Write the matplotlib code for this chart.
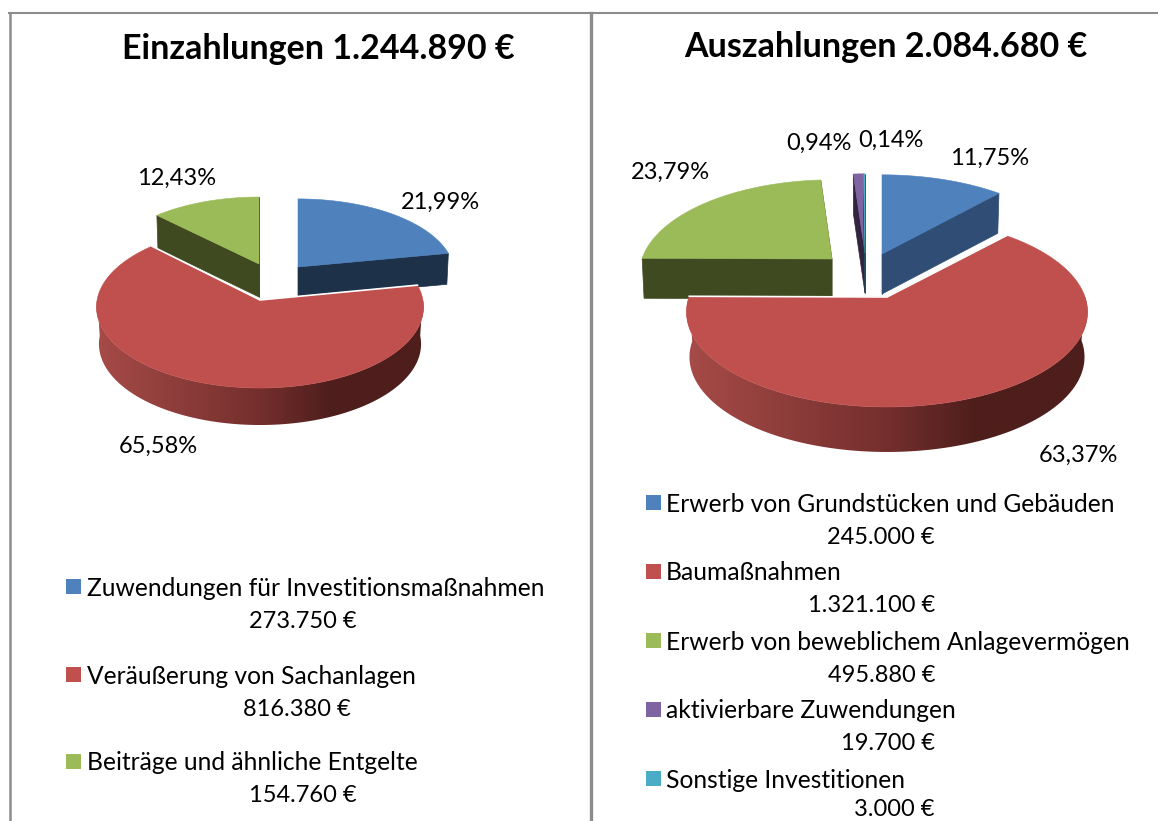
import numpy as np
import matplotlib.pyplot as plt
from matplotlib.colors import LinearSegmentedColormap
from matplotlib.patches import Polygon, Rectangle

plt.rcParams['font.family'] = ['Lato', 'DejaVu Sans']

# data
titel_links = 'Einzahlungen 1.244.890 €'
titel_rechts = 'Auszahlungen 2.084.680 €'

namen_links = ['Zuwendungen für Investitionsmaßnahmen', 'Veräußerung von Sachanlagen', 'Beiträge und ähnliche Entgelte']
werte_links = [273750, 816380, 154760]
betrag_links = ['273.750 €', '816.380 €', '154.760 €']
prozent_links = ['21,99%', '65,58%', '12,43%']

namen_rechts = ['Erwerb von Grundstücken und Gebäuden', 'Baumaßnahmen', 'Erwerb von beweblichem Anlagevermögen',
                'aktivierbare Zuwendungen', 'Sonstige Investitionen']
werte_rechts = [245000, 1321100, 495880, 19700, 3000]
betrag_rechts = ['245.000 €', '1.321.100 €', '495.880 €', '19.700 €', '3.000 €']
prozent_rechts = ['11,75%', '63,37%', '23,79%', '0,94%', '0,14%']

# styles
farben = ['#4F81BD', '#C0504D', '#9BBB59', '#8064A2', '#4BACC6']
wand_links = ['#1D3149', None, '#3F4A20']
wand_rechts = ['#2F4D75', None, '#3F4A20', '#32233F', '#1F4F5C']
rot_verlauf = LinearSegmentedColormap.from_list(
    'rot', [(0, '#A64B48'), (0.5, '#742F2D'), (0.72, '#4E1E1C'), (1, '#4E1E1C')])

# layout: pixel positions of the exploded slices, the red slice is index 1
spitzen_links = [(298, 267), (260, 300), (259, 264)]
skala_links = [(0.955, 0.92), (1, 1), (0.945, 0.905)]
tiefe_links = [31, 37, 33]
spitzen_rechts = [(882, 254), (887, 297), (832, 259), (865, 253), (865, 253)]
skala_rechts = [(0.98, 0.99), (1, 1), (0.96, 0.99), (1, 0.99), (1, 0.99)]
tiefe_rechts = [40, 45, 40, 40, 40]


def projektion(theta, spitze, radius, hoehe, k, skala):
    # theta clockwise from 12 o'clock, slightly perspective projection
    u = np.sin(theta)
    v = np.cos(theta)
    f = 1 / (1 + k * v)
    return spitze[0] + radius * skala[0] * u * f, spitze[1] - hoehe * skala[1] * v * f


def torte(ax, werte, wand, spitzen, skalen, tiefen, radius, hoehe, k):
    grenzen = np.concatenate([[0], np.cumsum(werte)]) / np.sum(werte) * 2 * np.pi
    # red slice last so that it lies over the others
    reihenfolge = [i for i in range(len(werte)) if i != 1] + [1]
    for i in reihenfolge:
        th = np.linspace(grenzen[i], grenzen[i + 1], 240)
        x, y = projektion(th, spitzen[i], radius, hoehe, k, skalen[i])
        sx, sy = spitzen[i]
        t = tiefen[i]
        if i == 1:
            # only the front of the rim is visible
            vorne = th[np.cos(th) <= 0.02]
            xo, yo = projektion(vorne, spitzen[i], radius, hoehe, k, skalen[i])
            xu, yu = projektion(vorne, spitzen[i], radius * 0.985, hoehe, k, skalen[i])
            yu = yu + t
            band = Polygon(np.column_stack([np.r_[xo, xu[::-1]], np.r_[yo, yu[::-1]]]), transform=ax.transData)
            verlauf = np.linspace(0, 1, 256).reshape(1, -1)
            bild = ax.imshow(verlauf, cmap=rot_verlauf, aspect='auto', interpolation='bilinear',
                             extent=[xo.min(), xo.max(), yu.max(), yo.min()])
            bild.set_clip_path(band)
        else:
            for a, b in [(x[0], y[0]), (x[-1], y[-1])]:
                qx = sx + (a - sx) * 0.99
                ax.add_patch(Polygon([(sx, sy), (a, b), (qx, b + t), (sx, sy + t)], facecolor=wand[i],
                                     edgecolor=wand[i], linewidth=0.5))
        flaeche = np.column_stack([np.r_[sx, x], np.r_[sy, y]])
        ax.add_patch(Polygon(flaeche, facecolor=farben[i], edgecolor=farben[i], linewidth=0.4))
        if i == 1:
            ax.plot([x[0], sx, x[-1]], [y[0], sy, y[-1]], color='white', lw=1.2, solid_joinstyle='miter')


fig = plt.figure(figsize=(11.58, 8.21), dpi=100)
ax = fig.add_axes([0, 0, 1, 1])
ax.axis('off')

# table lines
rahmen = '#8C8C8C'
ax.plot([9, 1158], [13, 13], color=rahmen, lw=1.5)
ax.plot([10, 10], [13, 821], color=rahmen, lw=1.8)
ax.plot([590.5, 590.5], [13, 821], color=rahmen, lw=2.4)

ax.text(318, 49, titel_links, fontsize=24.5, fontweight='bold', ha='center', va='center', color='black')
ax.text(886, 47, titel_rechts, fontsize=24.5, fontweight='bold', ha='center', va='center', color='black')

torte(ax, werte_links, wand_links, spitzen_links, skala_links, tiefe_links, 162.9, 80.4, 0.0865)
torte(ax, werte_rechts, wand_rechts, spitzen_rechts, skala_rechts, tiefe_rechts, 198, 92.6, 0.158)

# imshow changes the limits, so set them after the pies
ax.set_xlim(0, 1158)
ax.set_ylim(821, 0)

zahl_fs = 17
name_fs = 17.7
pos_links = [(440, 202), (158, 446), (177, 178)]
for txt, p in zip(prozent_links, pos_links):
    ax.text(p[0], p[1], txt, fontsize=zahl_fs, ha='center', va='center', color='black')
pos_rechts = [(990, 158), (1078, 455), (670, 172), (819, 143), (891, 140)]
for txt, p in zip(prozent_rechts, pos_rechts):
    ax.text(p[0], p[1], txt, fontsize=zahl_fs, ha='center', va='center', color='black')

# legends
zeilen_links = [586, 674, 761]
ende_links = [357, 351, 357]
for i, z in enumerate(zeilen_links):
    ax.add_patch(Rectangle((66, z - 6.5), 15, 15, facecolor=farben[i], edgecolor='none'))
    ax.text(87, z + 2, namen_links[i], fontsize=name_fs, ha='left', va='center', color='black')
    ax.text(ende_links[i], z + 35, betrag_links[i], fontsize=zahl_fs, ha='right', va='center', color='black')

zeilen_rechts = [502, 571, 640, 709, 778]
# the last amount sits right on the bottom edge of the picture
abstand_rechts = [35, 35, 35, 35, 32]
for i, z in enumerate(zeilen_rechts):
    ax.add_patch(Rectangle((646, z - 6.5), 15, 15, facecolor=farben[i], edgecolor='none'))
    ax.text(666, z + 2, namen_rechts[i], fontsize=name_fs, ha='left', va='center', color='black')
    ax.text(935, z + abstand_rechts[i], betrag_rechts[i], fontsize=zahl_fs, ha='right', va='center', color='black')

fig.savefig('out.png', dpi=100)
